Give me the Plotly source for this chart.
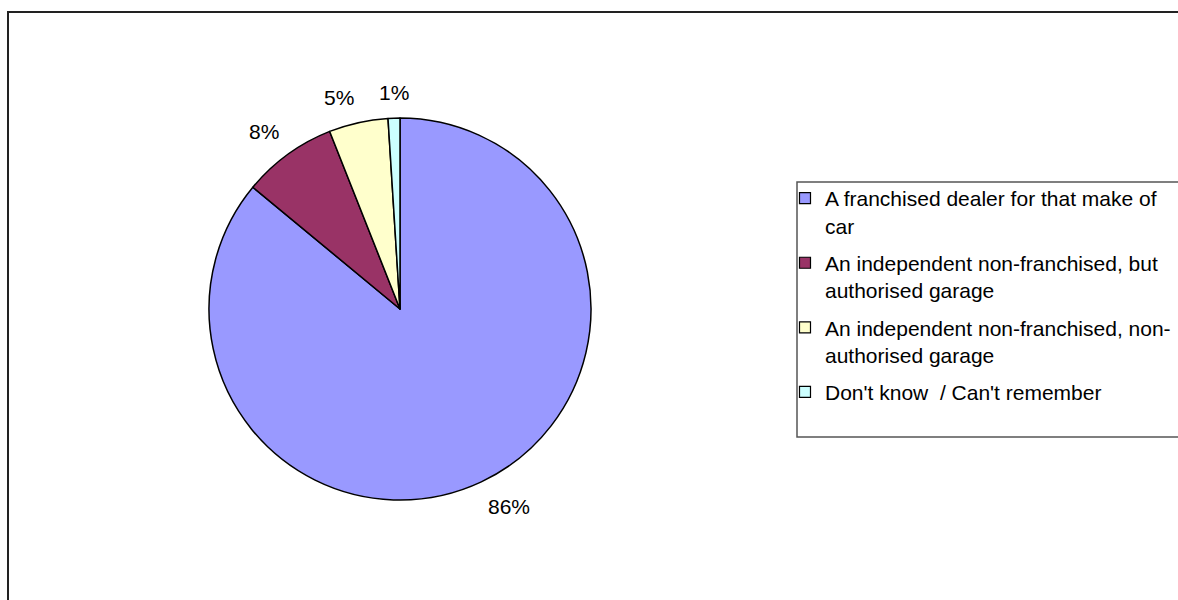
import math
import plotly.graph_objects as go

categories = [
    "A franchised dealer for that make of<br>car",
    "An independent non-franchised, but<br>authorised garage",
    "An independent non-franchised, non-<br>authorised garage",
    "Don't know  / Can't remember",
]
values = [86, 8, 5, 1]
colors = ["#9999FF", "#993366", "#FFFFCC", "#CCFFFF"]

W, H = 1178, 600
FONT = "Liberation Sans, Arial, sans-serif"
FS = 21

# pie geometry (pixels)
CX, CY, R = 400, 309, 191
dom_x = [(CX - 280) / W, (CX + 280) / W]
dom_y = [1 - (CY + R) / H, 1 - (CY - R) / H]

fig = go.Figure()
fig.add_trace(go.Pie(
    labels=categories,
    values=values,
    sort=False,
    direction="clockwise",
    rotation=0,
    marker=dict(colors=colors, line=dict(color="black", width=1.5)),
    textinfo="none",
    domain=dict(x=dom_x, y=dom_y),
    hoverinfo="label+percent",
    showlegend=False,
))

# legend entries (one group per category so the gap between entries can be set)
for i, (cat, col) in enumerate(zip(categories, colors)):
    fig.add_trace(go.Scatter(
        x=[None], y=[None], mode="markers", name=cat,
        legendgroup=f"g{i}",
        marker=dict(symbol="square", size=11, color=col,
                    line=dict(color="black", width=1.2)),
        hoverinfo="skip",
    ))

# percentage labels outside the slices, placed from the data
total = sum(values)
annotations = []
cum = 0.0
for v in values:
    mid = (cum + v / 2) / total * 2 * math.pi
    cum += v
    s, c = math.sin(mid), math.cos(mid)
    px = CX + (R + 12) * s
    py = CY - (R + 12) * c
    xa = "left" if s > 0.1 else ("right" if s < -0.1 else "center")
    ya = "top" if c < -0.1 else ("bottom" if c > 0.1 else "middle")
    annotations.append(dict(
        x=px / W, y=1 - py / H, xref="paper", yref="paper",
        text=f"{round(v / total * 100)}%", showarrow=False,
        xanchor=xa, yanchor=ya,
        font=dict(family=FONT, size=FS, color="black"),
    ))

fig.update_layout(
    width=W, height=H,
    margin=dict(l=0, r=0, t=0, b=0),
    paper_bgcolor="white",
    plot_bgcolor="white",
    xaxis=dict(visible=False),
    yaxis=dict(visible=False),
    showlegend=True,
    legend=dict(
        x=785 / W, y=1 - 178 / H, xanchor="left", yanchor="top",
        font=dict(family=FONT, size=FS, color="black"),
        bgcolor="rgba(0,0,0,0)", borderwidth=0,
        tracegroupgap=7, valign="top",
        itemclick=False, itemdoubleclick=False,
    ),
    annotations=annotations,
    shapes=[
        dict(type="rect", xref="paper", yref="paper",
             x0=8 / W, x1=1.02, y0=-0.02, y1=1 - 12 / H,
             line=dict(color="#222222", width=2), fillcolor="rgba(0,0,0,0)"),
        dict(type="rect", xref="paper", yref="paper",
             x0=797 / W, x1=1.02, y0=1 - 437 / H, y1=1 - 182 / H,
             line=dict(color="#555555", width=1.5), fillcolor="rgba(0,0,0,0)"),
    ],
)

fig.write_html("out.html")
